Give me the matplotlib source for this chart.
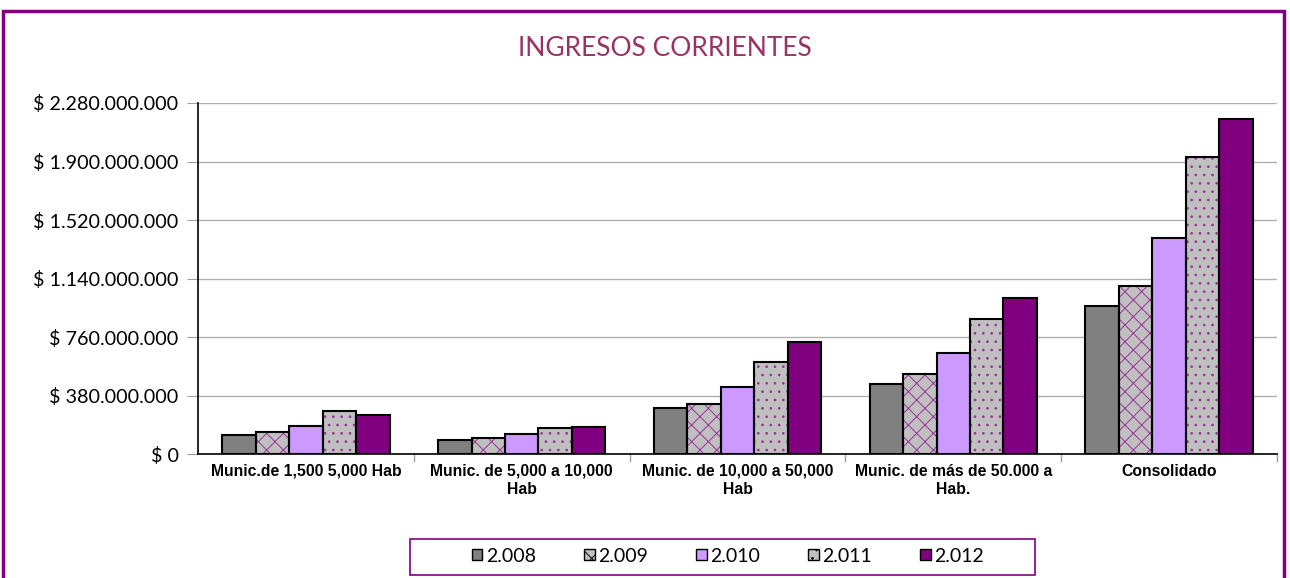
import matplotlib
matplotlib.use("Agg")
import matplotlib.pyplot as plt
import numpy as np
from matplotlib.patches import Rectangle, Patch

categories = ["Munic.de 1,500 5,000 Hab", "Munic. de 5,000 a 10,000\nHab",
              "Munic. de 10,000 a 50,000\nHab", "Munic. de más de 50.000 a\nHab.",
              "Consolidado"]
years = ["2.008", "2.009", "2.010", "2.011", "2.012"]
v2008 = [123e6, 91e6, 299e6, 455e6, 961e6]
v2009 = [143e6, 104e6, 325e6, 520e6, 1091e6]
v2010 = [182e6, 130e6, 435e6, 656e6, 1403e6]
v2011 = [279e6, 169e6, 598e6, 877e6, 1929e6]
v2012 = [253e6, 175e6, 728e6, 1013e6, 2176e6]
series = [v2008, v2009, v2010, v2011, v2012]

faces = ["#808080", "#C0C0C0", "#CC99FF", "#C0C0C0", "#800080"]
hatches = [None, "xx", None, "..", None]

plt.rcParams['hatch.linewidth'] = 0.7

fig = plt.figure(figsize=(12.9, 5.78), dpi=100)
ax = fig.add_axes([198/1290, 1-454/578, (1277-198)/1290, (454-103)/578])

x = np.arange(len(categories))
w = 0.155
for i, (vals, fc, h) in enumerate(zip(series, faces, hatches)):
    pos = x + (i-2)*w
    ax.bar(pos, vals, w, color=fc, edgecolor="#993399" if h else fc, linewidth=0,
           hatch=h, zorder=3)
    ax.bar(pos, vals, w, fill=False, edgecolor="black", linewidth=1.5, zorder=4)

ax.set_xlim(-0.5, 4.5)
ax.set_ylim(0, 2.28e9)
ticks = np.arange(0, 2.28e9+1, 3.8e8)
ax.set_yticks(ticks)
def fmt(v):
    if v == 0:
        return "$ 0"
    return "$ " + f"{int(round(v)):,}".replace(",", ".")
ax.set_yticklabels([fmt(v) for v in ticks], fontfamily="Lato", fontsize=14.2)
ax.grid(axis="y", color="#B0B0B0", linewidth=1, zorder=0)
ax.set_axisbelow(True)
for s in ["top", "right"]:
    ax.spines[s].set_visible(False)
ax.spines["left"].set_linewidth(1.2)
ax.spines["bottom"].set_linewidth(1.2)
ax.tick_params(axis="y", length=8, color="#A0A0A0", pad=6)
ax.set_xticks(x)
ax.set_xticklabels(categories, fontweight="bold", fontsize=11.3,
                   fontfamily="Liberation Sans", linespacing=1.25)
ax.tick_params(axis="x", length=0, pad=7)
for b in np.arange(0.5, 4.6, 1.0):
    ax.plot([b, b], [0, -0.02], transform=ax.get_xaxis_transform(), color="#A0A0A0",
            clip_on=False, linewidth=1)

fig.text(665/1290, 1-48/578, "INGRESOS CORRIENTES", ha="center", va="center",
         color="#993366", fontsize=19, fontfamily="Lato")

handles = [Patch(facecolor=fc, edgecolor="black", hatch=h, linewidth=1)
           for fc, h in zip(faces, hatches)]
leg = fig.legend(handles, years, loc="center",
                 bbox_to_anchor=(728/1290, 1-556/578), ncol=5,
                 frameon=False, prop={"family": "Lato", "size": 14},
                 handlelength=0.55, handleheight=0.55,
                 handletextpad=0.2, columnspacing=2.45)

fig.patches.append(Rectangle((410/1290, 3/578), 625/1290, 36/578, transform=fig.transFigure,
                             fill=False, edgecolor="#800080", linewidth=1.2))
fig.patches.append(Rectangle((3/1290, -0.05), 1281/1290, 1.05 - 11/578, transform=fig.transFigure,
                             fill=False, edgecolor="#800080", linewidth=2.5))

fig.savefig("out.png", dpi=100)
